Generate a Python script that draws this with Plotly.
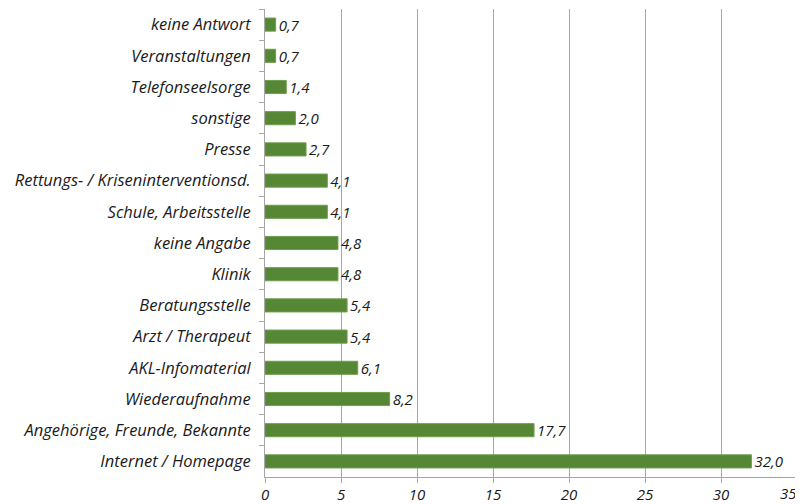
import plotly.graph_objects as go

categories = [
    "keine Antwort", "Veranstaltungen", "Telefonseelsorge", "sonstige", "Presse",
    "Rettungs- / Kriseninterventionsd.", "Schule, Arbeitsstelle", "keine Angabe",
    "Klinik", "Beratungsstelle", "Arzt / Therapeut", "AKL-Infomaterial",
    "Wiederaufnahme", "Angehörige, Freunde, Bekannte", "Internet / Homepage",
]
values = [0.7, 0.7, 1.4, 2.0, 2.7, 4.1, 4.1, 4.8, 4.8, 5.4, 5.4, 6.1, 8.2, 17.7, 32.0]
x_ticks = [0, 5, 10, 15, 20, 25, 30, 35]

labels = [f"{v:.1f}".replace(".", ",") for v in values]
font_family = "Open Sans, Lato, sans-serif"
txt = dict(family=font_family, size=16.5, color="#1a1a1a", style="italic")
vtxt = dict(family=font_family, size=15, color="#1a1a1a", style="italic")

fig = go.Figure(go.Bar(
    x=values, y=categories, orientation="h",
    marker=dict(color="#568735", line=dict(color="#6E9E4C", width=1)),
    width=0.42,
    text=labels, textposition="outside", constraintext="none",
    textfont=vtxt,
    cliponaxis=False,
))

# the page body adds an 8px offset, so the figure is sized 795x496
fig.update_layout(
    width=795, height=496,
    margin=dict(l=257, r=6, t=1, b=27, autoexpand=False),
    paper_bgcolor="white", plot_bgcolor="white",
    showlegend=False,
    xaxis=dict(
        range=[0, 35], tickvals=x_ticks[:-1], ticktext=[str(t) for t in x_ticks[:-1]],
        showgrid=True, gridcolor="#A6A6A6", gridwidth=1,
        showline=True, linecolor="#A6A6A6", linewidth=1,
        ticks="outside", ticklen=5, tickcolor="#A6A6A6",
        tickfont=vtxt, ticklabelstandoff=-1, automargin=False,
        zeroline=False,
    ),
    yaxis=dict(
        autorange="reversed", type="category",
        showline=True, linecolor="#A6A6A6", linewidth=1,
        ticks="outside", ticklen=5, tickcolor="#A6A6A6", tickson="boundaries",
        tickfont=txt, ticklabelstandoff=10, automargin=False,
        showgrid=False,
    ),
    annotations=[dict(
        x=x_ticks[-1], y=0, xref="x", yref="paper", yanchor="top", xanchor="right",
        yshift=-4, xshift=2,
        text=str(x_ticks[-1]), showarrow=False, font=vtxt,
    )],
)

fig.write_html("out.html")
